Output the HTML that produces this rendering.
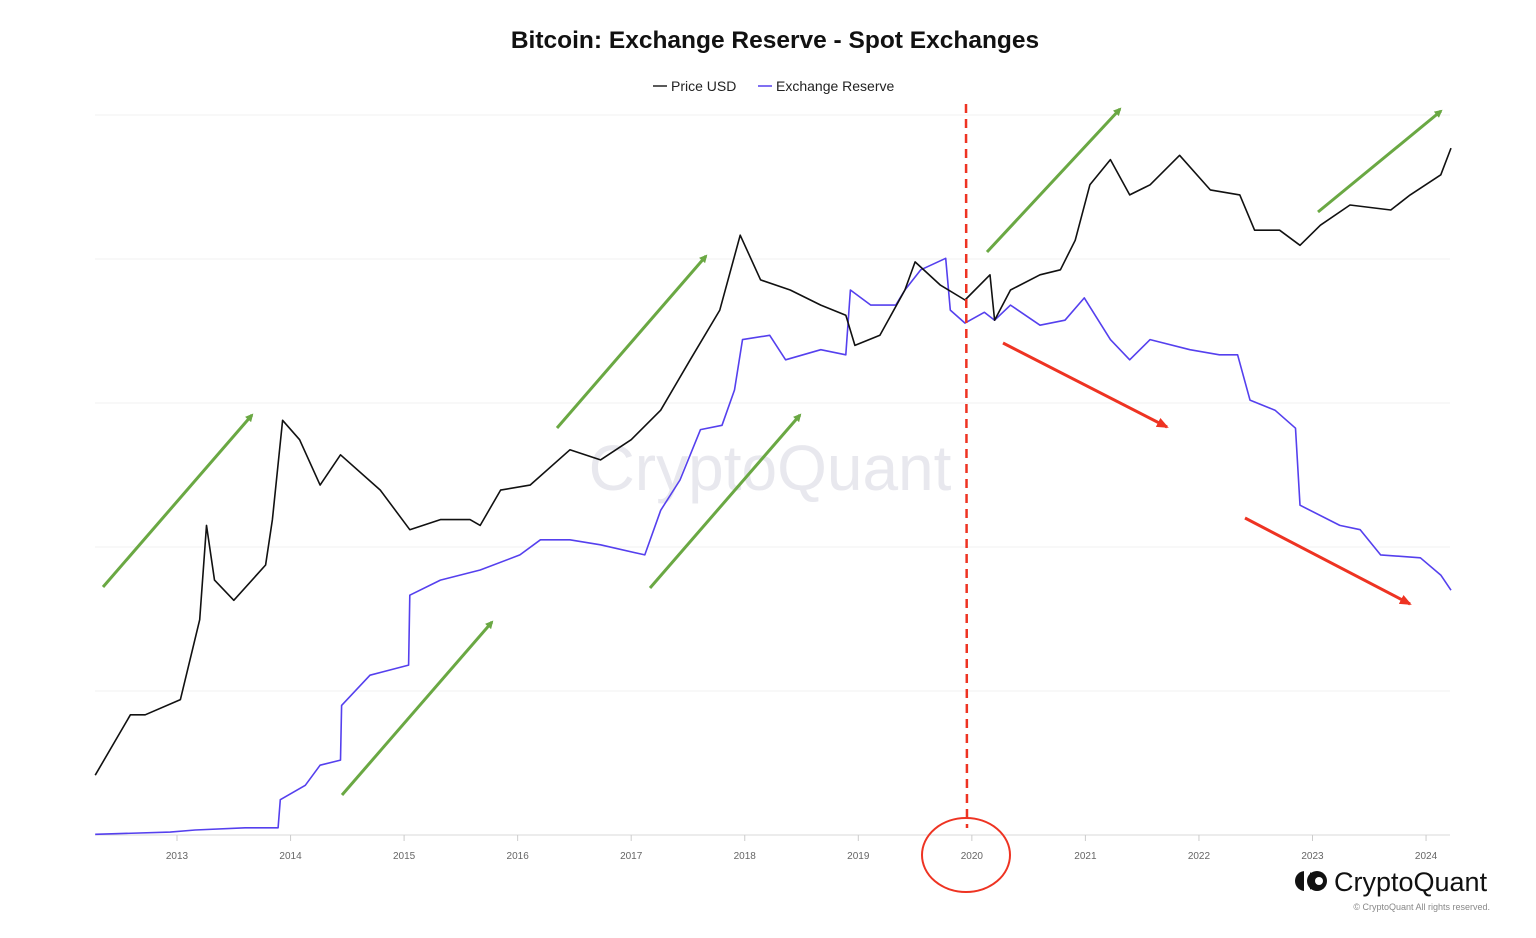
<!DOCTYPE html>
<html><head><meta charset="utf-8"><style>
body{margin:0;background:#fff;font-family:"Liberation Sans",sans-serif}
svg{display:block}
</style></head><body>
<svg id="c" width="1536" height="938">
<defs>
<marker id="ag" markerWidth="8" markerHeight="8" refX="6" refY="4" orient="auto" markerUnits="userSpaceOnUse"><path d="M0,0 L8,4 L0,8z" fill="#6aa843"/></marker>
<marker id="ar" markerWidth="12" markerHeight="10" refX="10" refY="5" orient="auto" markerUnits="userSpaceOnUse"><path d="M0,0 L12,5 L0,10z" fill="#ee3322"/></marker>
</defs>
<text x="775" y="48" text-anchor="middle" font-size="24.5" font-weight="bold" fill="#111">Bitcoin: Exchange Reserve - Spot Exchanges</text>
<g>
<line x1="653" y1="86" x2="667" y2="86" stroke="#222" stroke-width="1.5"/>
<text x="671" y="91" font-size="14" fill="#222">Price USD</text>
<line x1="758" y1="86" x2="772" y2="86" stroke="#5540ee" stroke-width="1.5"/>
<text x="776" y="91" font-size="14" fill="#222">Exchange Reserve</text>
</g>
<g id="grid"></g>
<g id="xaxis"></g>
<text x="770" y="490" text-anchor="middle" font-size="64" fill="#e8e8ee">CryptoQuant</text>
<g id="series"></g>
<g stroke-width="3">
<line x1="103" y1="587" x2="252" y2="415" stroke="#6aa843" marker-end="url(#ag)"/>
<line x1="342" y1="795" x2="492" y2="622" stroke="#6aa843" marker-end="url(#ag)"/>
<line x1="557" y1="428" x2="706" y2="256" stroke="#6aa843" marker-end="url(#ag)"/>
<line x1="650" y1="588" x2="800" y2="415" stroke="#6aa843" marker-end="url(#ag)"/>
<line x1="987" y1="252" x2="1120" y2="109" stroke="#6aa843" marker-end="url(#ag)"/>
<line x1="1318" y1="212" x2="1441" y2="111" stroke="#6aa843" marker-end="url(#ag)"/>
<line x1="1003" y1="343" x2="1167" y2="427" stroke="#ee3322" marker-end="url(#ar)"/>
<line x1="1245" y1="518" x2="1410" y2="604" stroke="#ee3322" marker-end="url(#ar)"/>
<line x1="966" y1="104" x2="967" y2="828" stroke="#ee3322" stroke-width="2.5" stroke-dasharray="9,6"/>
<ellipse cx="966" cy="855" rx="44" ry="37" fill="none" stroke="#ee3322" stroke-width="2"/>
</g>
<g>
<circle cx="1305" cy="881" r="10" fill="#111"/><rect x="1304" y="870" width="6" height="22" fill="#fff"/>
<circle cx="1317" cy="881" r="10" fill="#111"/><circle cx="1319" cy="881" r="4" fill="#fff"/>
<text x="1334" y="891" font-size="27" fill="#111">CryptoQuant</text>
<text x="1490" y="910" text-anchor="end" font-size="9" fill="#888">© CryptoQuant All rights reserved.</text>
</g>
</svg>
<script>
const years=[2013,2014,2015,2016,2017,2018,2019,2020,2021,2022,2023,2024];
const gridValues=[0,20,40,60,80,100];
const priceDates=[2012.28,2012.59,2012.72,2013.03,2013.2,2013.26,2013.33,2013.5,2013.78,2013.84,2013.93,2014.08,2014.26,2014.44,2014.79,2015.05,2015.32,2015.58,2015.67,2015.85,2016.11,2016.46,2016.73,2017.0,2017.26,2017.52,2017.78,2017.96,2018.14,2018.4,2018.67,2018.89,2018.97,2019.19,2019.41,2019.5,2019.72,2019.94,2020.16,2020.2,2020.34,2020.6,2020.78,2020.91,2021.04,2021.22,2021.39,2021.57,2021.83,2022.1,2022.36,2022.49,2022.71,2022.89,2023.07,2023.33,2023.69,2023.86,2024.13,2024.22];
const priceValues=[8.3,16.7,16.7,18.8,29.9,43,35.4,32.6,37.5,43.8,57.6,54.9,48.6,52.8,47.9,42.4,43.8,43.8,43,47.9,48.6,53.5,52.1,54.9,59,66,72.9,83.3,77.1,75.7,73.6,72.2,68,69.4,75.7,79.6,76.4,74.3,77.8,71.5,75.7,77.8,78.5,82.6,90.3,93.8,88.9,90.3,94.4,89.6,88.9,84,84,81.9,84.7,87.5,86.8,88.9,91.7,95.4];
const reserveDates=[2012.28,2012.94,2013.16,2013.6,2013.89,2013.91,2014.13,2014.26,2014.44,2014.45,2014.7,2015.04,2015.05,2015.32,2015.67,2016.02,2016.2,2016.46,2016.73,2017.12,2017.26,2017.43,2017.61,2017.8,2017.91,2017.98,2018.22,2018.36,2018.67,2018.89,2018.93,2019.11,2019.33,2019.41,2019.55,2019.77,2019.81,2019.94,2020.11,2020.2,2020.34,2020.6,2020.82,2020.99,2021.22,2021.39,2021.57,2021.92,2022.18,2022.34,2022.45,2022.67,2022.85,2022.89,2023.24,2023.42,2023.6,2023.95,2024.13,2024.22];
const reserveValues=[0.1,0.4,0.7,1,1,4.9,6.9,9.7,10.4,18,22.2,23.6,33.3,35.4,36.8,38.9,41,41,40.3,38.9,45.1,49.3,56.3,56.9,61.8,68.8,69.4,66,67.4,66.7,75.7,73.6,73.6,75.7,78.5,80.1,72.9,71.1,72.6,71.5,73.6,70.8,71.5,74.6,68.8,66,68.8,67.4,66.7,66.7,60.4,59,56.5,45.8,43,42.4,38.9,38.5,36.1,34];
const X=y=>177+(y-2013)*113.55;
const Y=v=>835-v*7.2;
const NS="http://www.w3.org/2000/svg";
function mk(t,a,p){const e=document.createElementNS(NS,t);for(const k in a)e.setAttribute(k,a[k]);p.appendChild(e);return e;}
const grid=document.getElementById('grid');
gridValues.forEach(v=>{
 const l=mk('line',{x1:95,x2:1450,y1:Y(v),y2:Y(v),stroke:v===0?'#d8d8d8':'#f2f2f2','stroke-width':1},grid);
 
 
});
const xa=document.getElementById('xaxis');
years.forEach(y=>{
 mk('line',{x1:X(y),x2:X(y),y1:835,y2:841,stroke:'#ccc'},xa);
 const t=mk('text',{x:X(y),y:859,'text-anchor':'middle','font-size':10,fill:'#666'},xa);
 t.textContent=y;
 
 
});
const s=document.getElementById('series');
function line(d,v,col,name){
 const pts=d.map((x,i)=>X(x).toFixed(1)+','+Y(v[i]).toFixed(1)).join(' ');
 const p=mk('polyline',{points:pts,fill:'none',stroke:col,'stroke-width':1.6,'stroke-linejoin':'round'},s);
 
 
}
line(reserveDates,reserveValues,'#5540ee','exchange-reserve-line');
line(priceDates,priceValues,'#111','price-usd-line');
</script>
</body></html>
